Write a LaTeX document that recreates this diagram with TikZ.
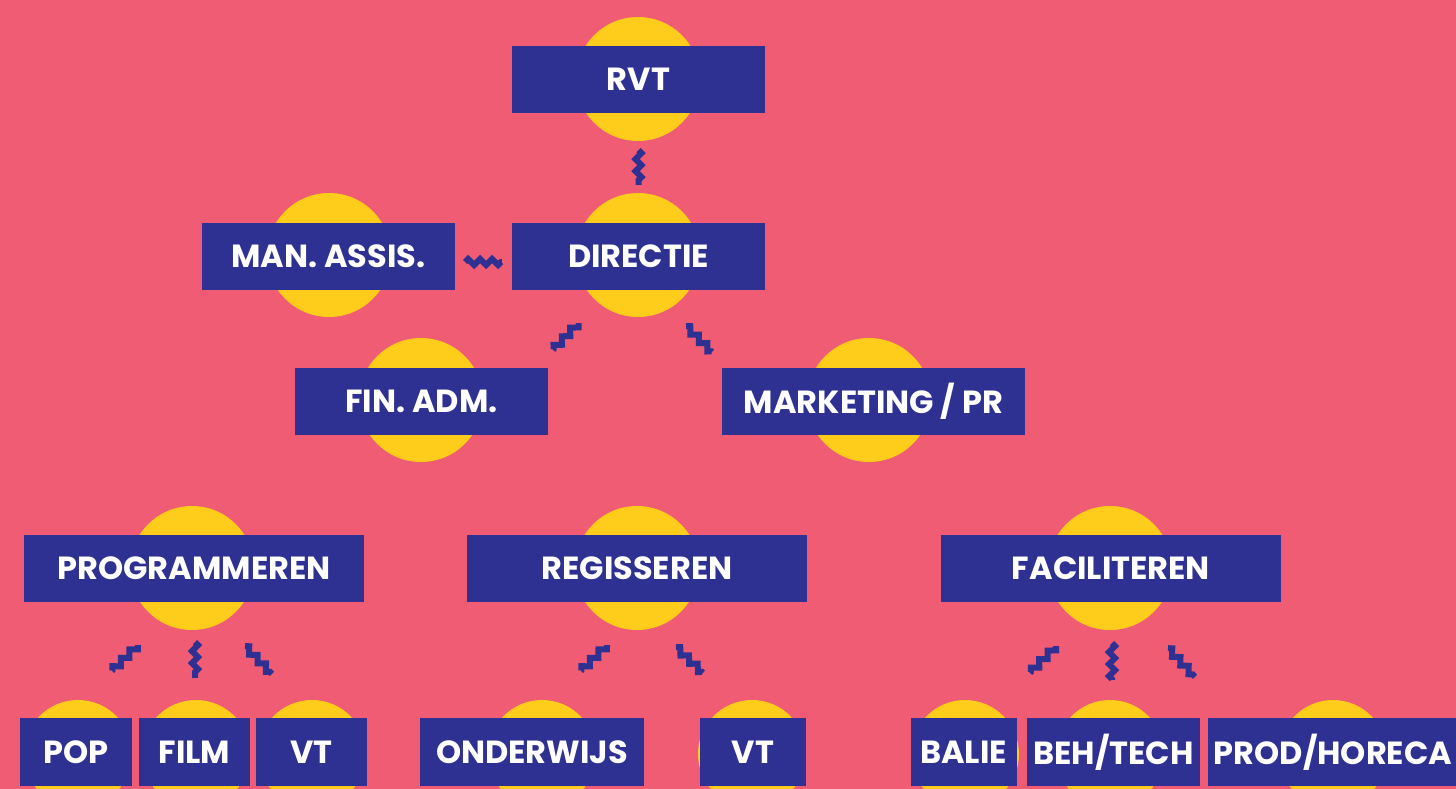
\documentclass[tikz,border=0pt]{standalone}
\usepackage{fontspec}
\newfontfamily\boxfont{Poppins}
\usetikzlibrary{decorations.pathmorphing}
\definecolor{rose}{HTML}{F05C73}
\definecolor{sun}{HTML}{FECC1A}
\definecolor{ink}{HTML}{2E3192}
\tikzset{
  box/.style={fill=ink, text=white, font=\boxfont\bfseries\fontsize{32}{32}\selectfont,
    minimum height=67, inner sep=0pt},
  disc/.style={circle, fill=sun, minimum size=124, inner sep=0pt},
  smalldisc/.style={circle, fill=sun, minimum size=108, inner sep=0pt},
  squig/.style={draw=ink, line width=6, line join=miter, decorate,
    decoration={zigzag, segment length=12, amplitude=3}},
}
\begin{document}
\begin{tikzpicture}[x=1pt,y=-1pt]
    \fill [rose] (0,0) rectangle (1456,789);
    \clip (0,0) rectangle (1456,789);
    \node [disc] (rvt-d) at (638,79) {};
    \node [disc] (dir-d) at (638,255) {};
    \node [disc] (man-d) at (329,255) {};
    \node [disc] (fin-d) at (421,400) {};
    \node [disc] (mkt-d) at (869,400) {};
    \node [disc] (prog-d) at (192,568) {};
    \node [disc] (reg-d) at (637,568) {};
    \node [disc] (fac-d) at (1110,568) {};
    \node [smalldisc] (pop-d) at (78,754) {};
    \node [smalldisc] (film-d) at (196,754) {};
    \node [smalldisc] (vt-d) at (312,754) {};
    \node [smalldisc] (ond-d) at (542,754) {};
    \node [smalldisc] (vt2-d) at (752,754) {};
    \node [smalldisc] (balie-d) at (965,754) {};
    \node [smalldisc] (beh-d) at (1110,754) {};
    \node [smalldisc] (prod-d) at (1333,754) {};
    \node [box, minimum width=253] (rvt) at (638.5,79.5) {RVT};
    \node [box, minimum width=253] (dir) at (638.5,256.5) {DIRECTIE};
    \node [box, minimum width=253] (man) at (328.5,256.5) {MAN. ASSIS.};
    \node [box, minimum width=253] (fin) at (421.5,401.5) {FIN. ADM.};
    \node [box, minimum width=303] (mkt) at (873.5,401.5) {MARKETING / PR};
    \node [box, minimum width=340] (prog) at (194,568.5) {PROGRAMMEREN};
    \node [box, minimum width=340] (reg) at (637,568.5) {REGISSEREN};
    \node [box, minimum width=340] (fac) at (1111,568.5) {FACILITEREN};
    \node [box, minimum width=112, minimum height=68] (pop) at (76,752) {POP};
    \node [box, minimum width=111, minimum height=68] (film) at (194.5,752) {FILM};
    \node [box, minimum width=111, minimum height=68] (vt) at (311.5,752) {VT};
    \node [box, minimum width=224, minimum height=68] (ond) at (532,752) {ONDERWIJS};
    \node [box, minimum width=106, minimum height=68] (vt2) at (753,752) {VT};
    \node [box, minimum width=106, minimum height=68] (balie) at (963.5,752) {BALIE};
    \node [box, minimum width=173, minimum height=68] (beh) at (1113.5,752) {BEH/TECH};
    \node [box, minimum width=250, minimum height=68] (prod) at (1333,752) {PROD/HORECA};
    \draw [squig] ([shift={(0,37)}]rvt.south) -- ([shift={(0,-38)}]dir.north);
    \draw [squig] ([shift={(10,5.5)}]man.east) -- ([shift={(-10,5.5)}]dir.west);
    \draw [squig] ([shift={(-60,33)}]dir.south) -- ([shift={(131.5,-18)}]fin.north);
    \draw [squig] ([shift={(47.5,36)}]dir.south) -- ([shift={(-161.5,-16)}]mkt.north);
    \draw [squig] ([shift={(-56,43)}]prog.south) -- ([shift={(36,-47)}]pop.north);
    \draw [squig] ([shift={(1,40)}]prog.south) -- ([shift={(0.5,-40)}]film.north);
    \draw [squig] ([shift={(51,44)}]prog.south) -- ([shift={(-39.5,-44)}]vt.north);
    \draw [squig] ([shift={(-30,43)}]reg.south) -- ([shift={(49,-47)}]ond.north);
    \draw [squig] ([shift={(39,45)}]reg.south) -- ([shift={(-50,-45)}]vt2.north);
    \draw [squig] ([shift={(-55,44)}]fac.south) -- ([shift={(66.5,-45)}]balie.north);
    \draw [squig] ([shift={(1,41)}]fac.south) -- ([shift={(-1.5,-38)}]beh.north);
    \draw [squig] ([shift={(57,46)}]fac.south) -- ([shift={(-138,-41)}]prod.north);
\end{tikzpicture}
\end{document}
